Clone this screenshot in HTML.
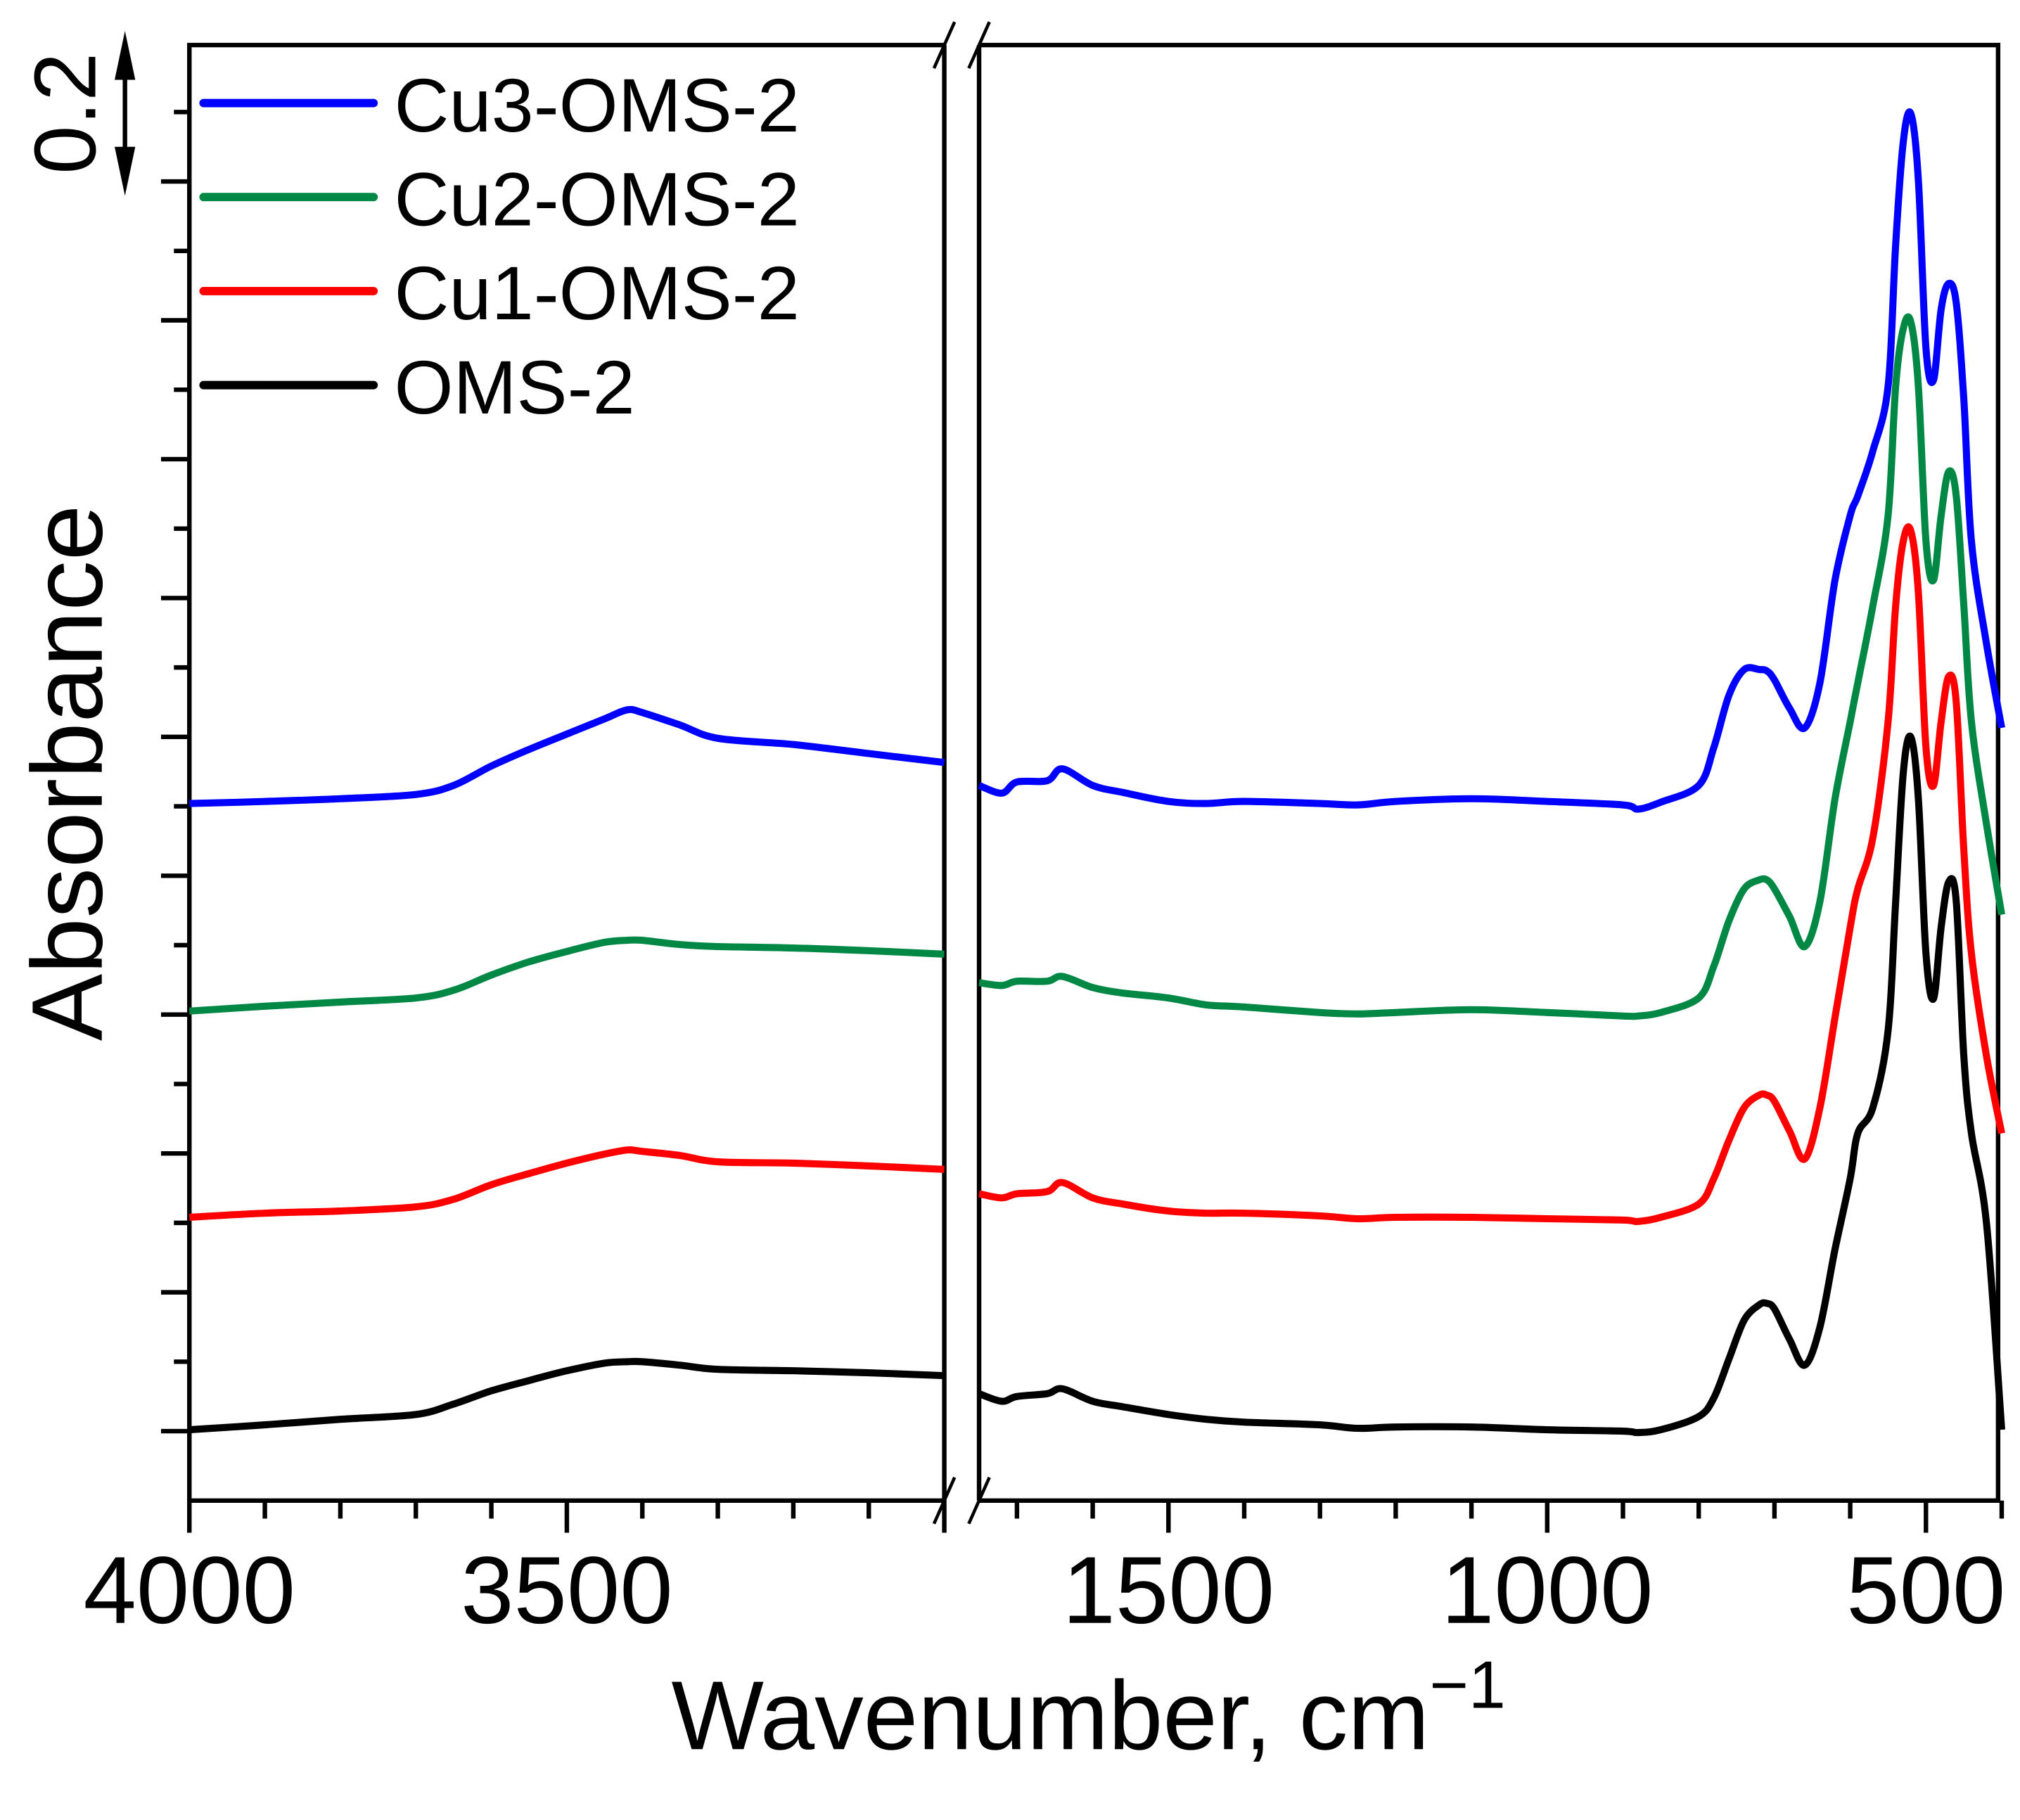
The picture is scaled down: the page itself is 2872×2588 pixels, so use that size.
<!DOCTYPE html>
<html><head><meta charset="utf-8"><style>
html,body{margin:0;padding:0;background:#fff}
svg{display:block}
text{font-family:"Liberation Sans",Arial,sans-serif;fill:#000}
</style></head><body>
<svg id="chart" width="2872" height="2588" viewBox="0 0 1568 1413" preserveAspectRatio="none" xmlns="http://www.w3.org/2000/svg">
<g id="axes"></g>
<g id="series"></g>
<g id="legend"></g>
</svg>
<script>
const leftWn = [4000,3900,3800,3700,3650,3600,3550,3500,3450,3420,3400,3350,3300,3200,3100,3000];
const rightWn = [1750,1720,1700,1660,1640,1600,1560,1500,1450,1400,1300,1250,1200,1100,1000,900,880,850,800,780,760,740,720,710,700,680,660,640,620,600,590,570,550,540,530,520,510,500,490,480,470,460,450,440,420,400];
// absorbance values (offset-stacked)
const omsLeft = [0.102,0.109,0.117,0.124,0.139,0.158,0.173,0.187,0.198,0.200,0.200,0.195,0.189,0.187,0.184,0.180];
const omsRight = [0.154,0.143,0.150,0.154,0.161,0.143,0.135,0.124,0.117,0.113,0.109,0.104,0.106,0.106,0.102,0.100,0.098,0.102,0.121,0.148,0.204,0.260,0.282,0.284,0.276,0.232,0.195,0.250,0.362,0.464,0.529,0.566,0.677,0.863,1.048,1.100,1.011,0.788,0.723,0.826,0.891,0.863,0.640,0.529,0.399,0.102];
const cu1Left = [0.408,0.414,0.417,0.423,0.434,0.455,0.471,0.486,0.499,0.505,0.503,0.497,0.488,0.486,0.482,0.477];
const cu1Right = [0.442,0.436,0.442,0.445,0.458,0.436,0.427,0.417,0.414,0.414,0.410,0.406,0.408,0.408,0.406,0.404,0.402,0.408,0.427,0.464,0.519,0.566,0.584,0.584,0.575,0.532,0.492,0.566,0.696,0.826,0.881,0.955,1.122,1.289,1.382,1.397,1.308,1.085,1.030,1.122,1.187,1.150,0.937,0.788,0.640,0.529];
const cu2Left = [0.705,0.712,0.718,0.724,0.735,0.757,0.776,0.791,0.804,0.807,0.807,0.801,0.798,0.796,0.792,0.787];
const cu2Right = [0.746,0.742,0.748,0.748,0.755,0.739,0.731,0.724,0.714,0.711,0.703,0.701,0.703,0.707,0.703,0.698,0.698,0.703,0.724,0.770,0.835,0.881,0.894,0.894,0.881,0.841,0.798,0.863,1.011,1.122,1.178,1.289,1.419,1.605,1.688,1.698,1.605,1.382,1.326,1.419,1.482,1.447,1.289,1.122,0.974,0.844];
const cu3Left = [1.004,1.007,1.011,1.017,1.030,1.058,1.082,1.104,1.126,1.139,1.135,1.117,1.098,1.089,1.076,1.063];
const cu3Right = [1.030,1.019,1.035,1.037,1.054,1.030,1.020,1.007,1.004,1.007,1.004,1.002,1.007,1.011,1.007,1.002,0.996,1.006,1.030,1.085,1.160,1.197,1.197,1.195,1.182,1.141,1.113,1.178,1.326,1.419,1.447,1.512,1.605,1.809,1.957,1.998,1.902,1.660,1.614,1.716,1.753,1.725,1.586,1.382,1.234,1.113];
const seriesNames = ["OMS-2","Cu1-OMS-2","Cu2-OMS-2","Cu3-OMS-2"];
const seriesColors = ["#000000","#ff0000","#008844","#0000ff"];
const xTickLabels = ["4000","3500","1500","1000","500"];
const xTickValues = [4000,3500,1500,1000,500];

const NS="http://www.w3.org/2000/svg";
const L=147,R=1551,T=35,B=1165,BL=733,BR=760;
function xL(w){return 147+(4000-w)/500*293;}
function xR(w){return 907+(1500-w)/500*294;}
function xAny(w){return w>=2000?xL(w):xR(w);}
function yA(a){return B-a*539;}
function mk(tag,attrs,parent){const e=document.createElementNS(NS,tag);for(const k in attrs)e.setAttribute(k,attrs[k]);parent.appendChild(e);return e;}
function smooth(pts){
 let d='M'+pts[0][0].toFixed(1)+','+pts[0][1].toFixed(1);
 for(let i=0;i<pts.length-1;i++){
  const p0=pts[Math.max(0,i-1)],p1=pts[i],p2=pts[i+1],p3=pts[Math.min(pts.length-1,i+2)];
  const c1x=p1[0]+(p2[0]-p0[0])/6,c1y=p1[1]+(p2[1]-p0[1])/6;
  const c2x=p2[0]-(p3[0]-p1[0])/6,c2y=p2[1]-(p3[1]-p1[1])/6;
  d+='C'+c1x.toFixed(1)+','+c1y.toFixed(1)+' '+c2x.toFixed(1)+','+c2y.toFixed(1)+' '+p2[0].toFixed(1)+','+p2[1].toFixed(1);
 }
 return d;
}
const axes=document.getElementById('axes'),ser=document.getElementById('series'),leg=document.getElementById('legend');
const st={stroke:'#000','stroke-width':3.5,fill:'none'};
let e;
e=mk('path',Object.assign({d:`M${BL},${T}H${L}V${B}H${BL}M${BR},${B}H${R}V${T}H${BR}`},st),axes);

e=mk('line',Object.assign({x1:BL,y1:T,x2:BL,y2:B},st),axes);

e=mk('line',Object.assign({x1:BR,y1:T,x2:BR,y2:B},st),axes);

for(const yy of [T,B]){for(const xx of [BL,BR]){
 e=mk('line',{x1:xx-8,y1:yy+18,x2:xx+8,y2:yy-18,stroke:'#000','stroke-width':2.5},axes);
 
}}
for(let k=0;k<=20;k++){const a=0.1+k*0.1;const y=yA(a);if(y<T-1)break;
 const major=(k%2===0);
 e=mk('line',{x1:L,y1:y,x2:L-(major?22:12),y2:y,stroke:'#000','stroke-width':3.5},axes);
 }
for(let w=4000;w>=3000;w-=100){const x=xL(w);const major=(w%500===0);
 e=mk('line',{x1:x,y1:B,x2:x,y2:B+(major?25:14),stroke:'#000','stroke-width':3.5},axes);
 }
for(let w=1700;w>=400;w-=100){const x=xR(w);const major=(w%500===0);
 e=mk('line',{x1:x,y1:B,x2:x,y2:B+(major?25:14),stroke:'#000','stroke-width':3.5},axes);
 }
xTickValues.forEach((v,i)=>{const t=mk('text',{x:xAny(v),y:1260,'text-anchor':'middle','font-size':74},axes);t.textContent=xTickLabels[i];
 });
e=mk('text',{x:845,y:1358,'text-anchor':'middle','font-size':76},axes);
e.innerHTML='Wavenumber, cm<tspan dy="-32" font-size="52">−1</tspan>';

e=mk('text',{x:0,y:0,'text-anchor':'middle','font-size':78,transform:'translate(79,600) rotate(-90)'},axes);
e.textContent='Absorbance';
e=mk('text',{x:0,y:0,'text-anchor':'middle','font-size':68,transform:'translate(74,88) rotate(-90)'},axes);
e.textContent='0.2';
e=mk('path',{d:'M97,38V138',stroke:'#000','stroke-width':3.5},axes);

e=mk('path',{d:'M97,24L89,62H105ZM97,152L89,114H105Z',fill:'#000'},axes);

const lefts=[omsLeft,cu1Left,cu2Left,cu3Left],rights=[omsRight,cu1Right,cu2Right,cu3Right];
for(let s=0;s<4;s++){
 const d1=smooth(leftWn.map((w,i)=>[xL(w),yA(lefts[s][i])]));
 const d2=smooth(rightWn.map((w,i)=>[xR(w),yA(rights[s][i])]));
 e=mk('path',{d:d1,stroke:seriesColors[s],'stroke-width':5.5,fill:'none','stroke-linejoin':'round'},ser);
 
 e=mk('path',{d:d2,stroke:seriesColors[s],'stroke-width':5.5,fill:'none','stroke-linejoin':'round'},ser);
 
}
[3,2,1,0].forEach((s,i)=>{const y=80+i*73;
 e=mk('line',{x1:158,y1:y,x2:290,y2:y,stroke:seriesColors[s],'stroke-width':6.5,'stroke-linecap':'round'},leg);
 
 e=mk('text',{x:306,y:y+22,'font-size':59},leg);e.textContent=seriesNames[s];
 
});
</script>
</body></html>
